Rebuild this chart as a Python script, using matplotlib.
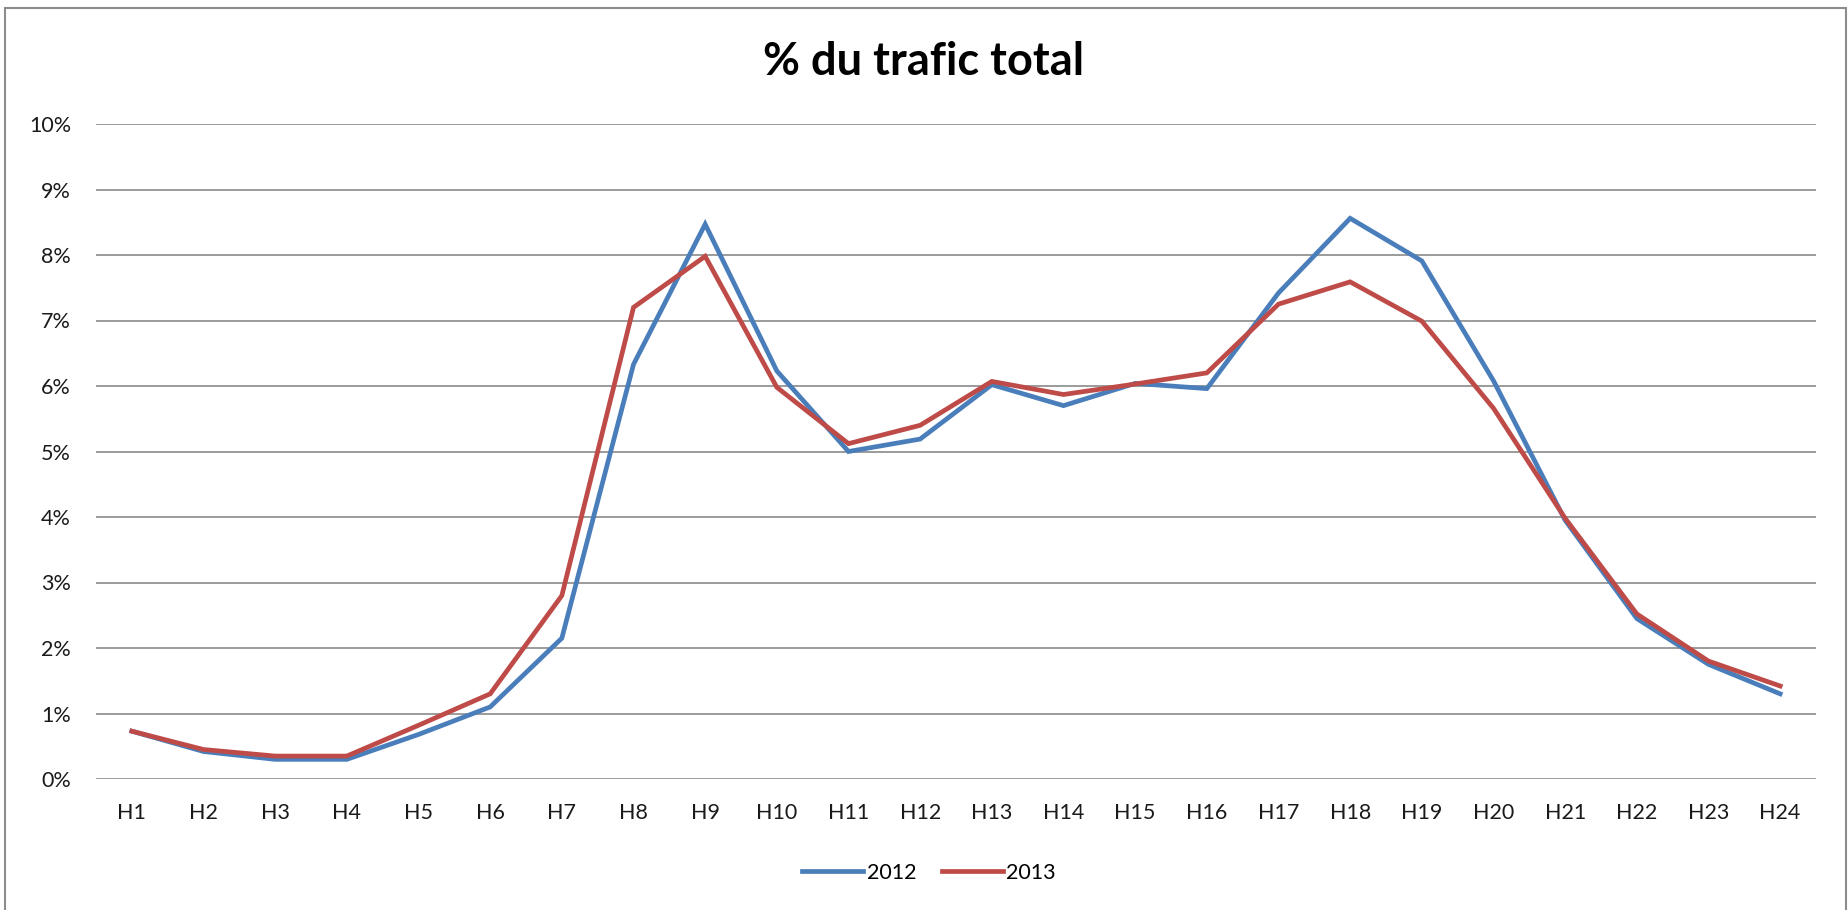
import matplotlib
matplotlib.use("Agg")
import matplotlib.pyplot as plt
from matplotlib.patches import Rectangle
from matplotlib.ticker import FuncFormatter, MultipleLocator

hours = [f"H{i}" for i in range(1, 25)]
series_2012 = [0.73, 0.42, 0.30, 0.30, 0.68, 1.10, 2.15, 6.33, 8.47, 6.23,
               5.00, 5.19, 6.02, 5.70, 6.04, 5.96, 7.42, 8.56, 7.91, 6.08,
               3.95, 2.45, 1.75, 1.30]
series_2013 = [0.73, 0.45, 0.35, 0.35, 0.82, 1.30, 2.80, 7.20, 7.98, 5.98,
               5.12, 5.40, 6.07, 5.87, 6.03, 6.20, 7.25, 7.59, 6.99, 5.66,
               3.98, 2.52, 1.80, 1.42]
title = "% du trafic total"
labels = ["2012", "2013"]

plt.rcParams['font.family'] = ['Lato', 'DejaVu Sans']

W, H = 1848, 910
fig = plt.figure(figsize=(W / 100, H / 100), dpi=100)
fig.patch.set_facecolor("white")

# outer chart border
fig.add_artist(Rectangle((5 / W, -0.05), (1846 - 5) / W, 1.05 - 8 / H,
                         transform=fig.transFigure, fill=False,
                         edgecolor="#8c8c8c", linewidth=1.5))

ax = fig.add_axes([96 / W, 1 - 779 / H, (1816 - 96) / W, (779 - 124) / H])
x = list(range(len(hours)))
ax.plot(x, series_2012, color="#4A7EBB", lw=3.4, label=labels[0],
        solid_joinstyle="miter", zorder=3)
ax.plot(x, series_2013, color="#BE4B48", lw=3.4, label=labels[1],
        solid_joinstyle="miter", zorder=3)

ax.set_xlim(-0.5, 23.5)
ax.set_ylim(0, 10)
ax.yaxis.set_major_locator(MultipleLocator(1))
ax.yaxis.set_major_formatter(FuncFormatter(lambda v, p: f"{v:.0f}%"))
ax.set_xticks(x)
ax.set_xticklabels(hours)
ax.grid(axis="y", color="#8a8a8a", lw=1.2)
ax.set_axisbelow(True)
for s in ax.spines.values():
    s.set_visible(False)
ax.tick_params(axis="y", length=0, pad=18, labelsize=15.5, labelcolor="#1a1a1a")
ax.tick_params(axis="x", length=0, pad=17, labelsize=15.5, labelcolor="#1a1a1a")

fig.text(924 / W, 1 - 62 / H, title, ha="center", va="center",
         fontsize=32.5, fontweight="bold", color="black")

fig.legend(loc="center", bbox_to_anchor=(929 / W, 1 - 873 / H), ncol=2,
           frameon=False, fontsize=15.5, handlelength=2.85, handletextpad=0.15,
           columnspacing=1.2)

fig.savefig("out.png", dpi=100)
